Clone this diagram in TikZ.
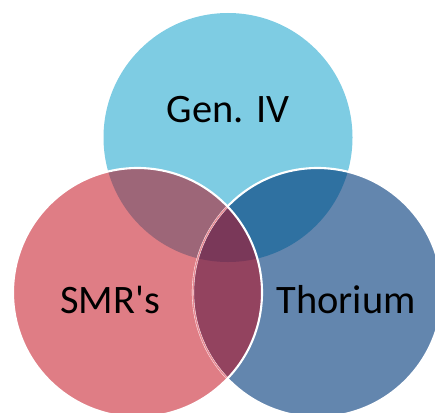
\documentclass[tikz,border=0pt]{standalone}
\usepackage{fontspec}
\setmainfont{Carlito}

\definecolor{genblue}{RGB}{126,204,227}
\definecolor{smrpink}{RGB}{223,125,133}
\definecolor{thoblue}{RGB}{99,134,174}
\definecolor{gensmr}{RGB}{157,102,120}
\definecolor{gentho}{RGB}{47,113,161}
\definecolor{smrtho}{RGB}{147,67,95}
\definecolor{allthree}{RGB}{122,56,89}
\definecolor{faintpink}{RGB}{232,138,148}

\newcommand{\rad}{124.5}

\tikzset{
    venntext/.style={font=\fontsize{23}{28}\selectfont, text=black, inner sep=0pt},
    rim/.style={draw=white, line width=1.2pt},
    faintrim/.style={draw=faintpink, line width=0.8pt}
}

\begin{document}
\begin{tikzpicture}[x=0.02cm, y=-0.02cm]
    \useasboundingbox (0,0) rectangle (435,412);

    % Circle centres
    \coordinate (gen) at (228,137.5);
    \coordinate (smr) at (137.5,292.5);
    \coordinate (tho) at (317.5,292.5);

    % Single sets
    \fill[genblue] (gen) circle (\rad);
    \fill[thoblue] (tho) circle (\rad);
    \fill[smrpink] (smr) circle (\rad);

    % Overlaps
    \begin{scope}
        \clip (gen) circle (\rad);
        \fill[gensmr] (smr) circle (\rad);
        \fill[gentho] (tho) circle (\rad);
    \end{scope}
    \begin{scope}
        \clip (smr) circle (\rad);
        \fill[smrtho] (tho) circle (\rad);
        \clip (gen) circle (\rad);
        \fill[allthree] (tho) circle (\rad);
    \end{scope}

    % Outlines
    \draw[rim] (tho) circle (\rad);
    \begin{scope}
        \clip (smr) circle (\rad);
        \draw[faintrim] (tho) circle (\rad);
    \end{scope}
    \draw[rim] (smr) circle (\rad);

    % Labels
    \node[venntext] (gentext) at (228,109.5) {Gen. IV};
    \node[venntext] (smrtext) at (110,300) {SMR\textquotesingle s};
    \node[venntext] (thotext) at (346,300) {Thorium};
\end{tikzpicture}
\end{document}
